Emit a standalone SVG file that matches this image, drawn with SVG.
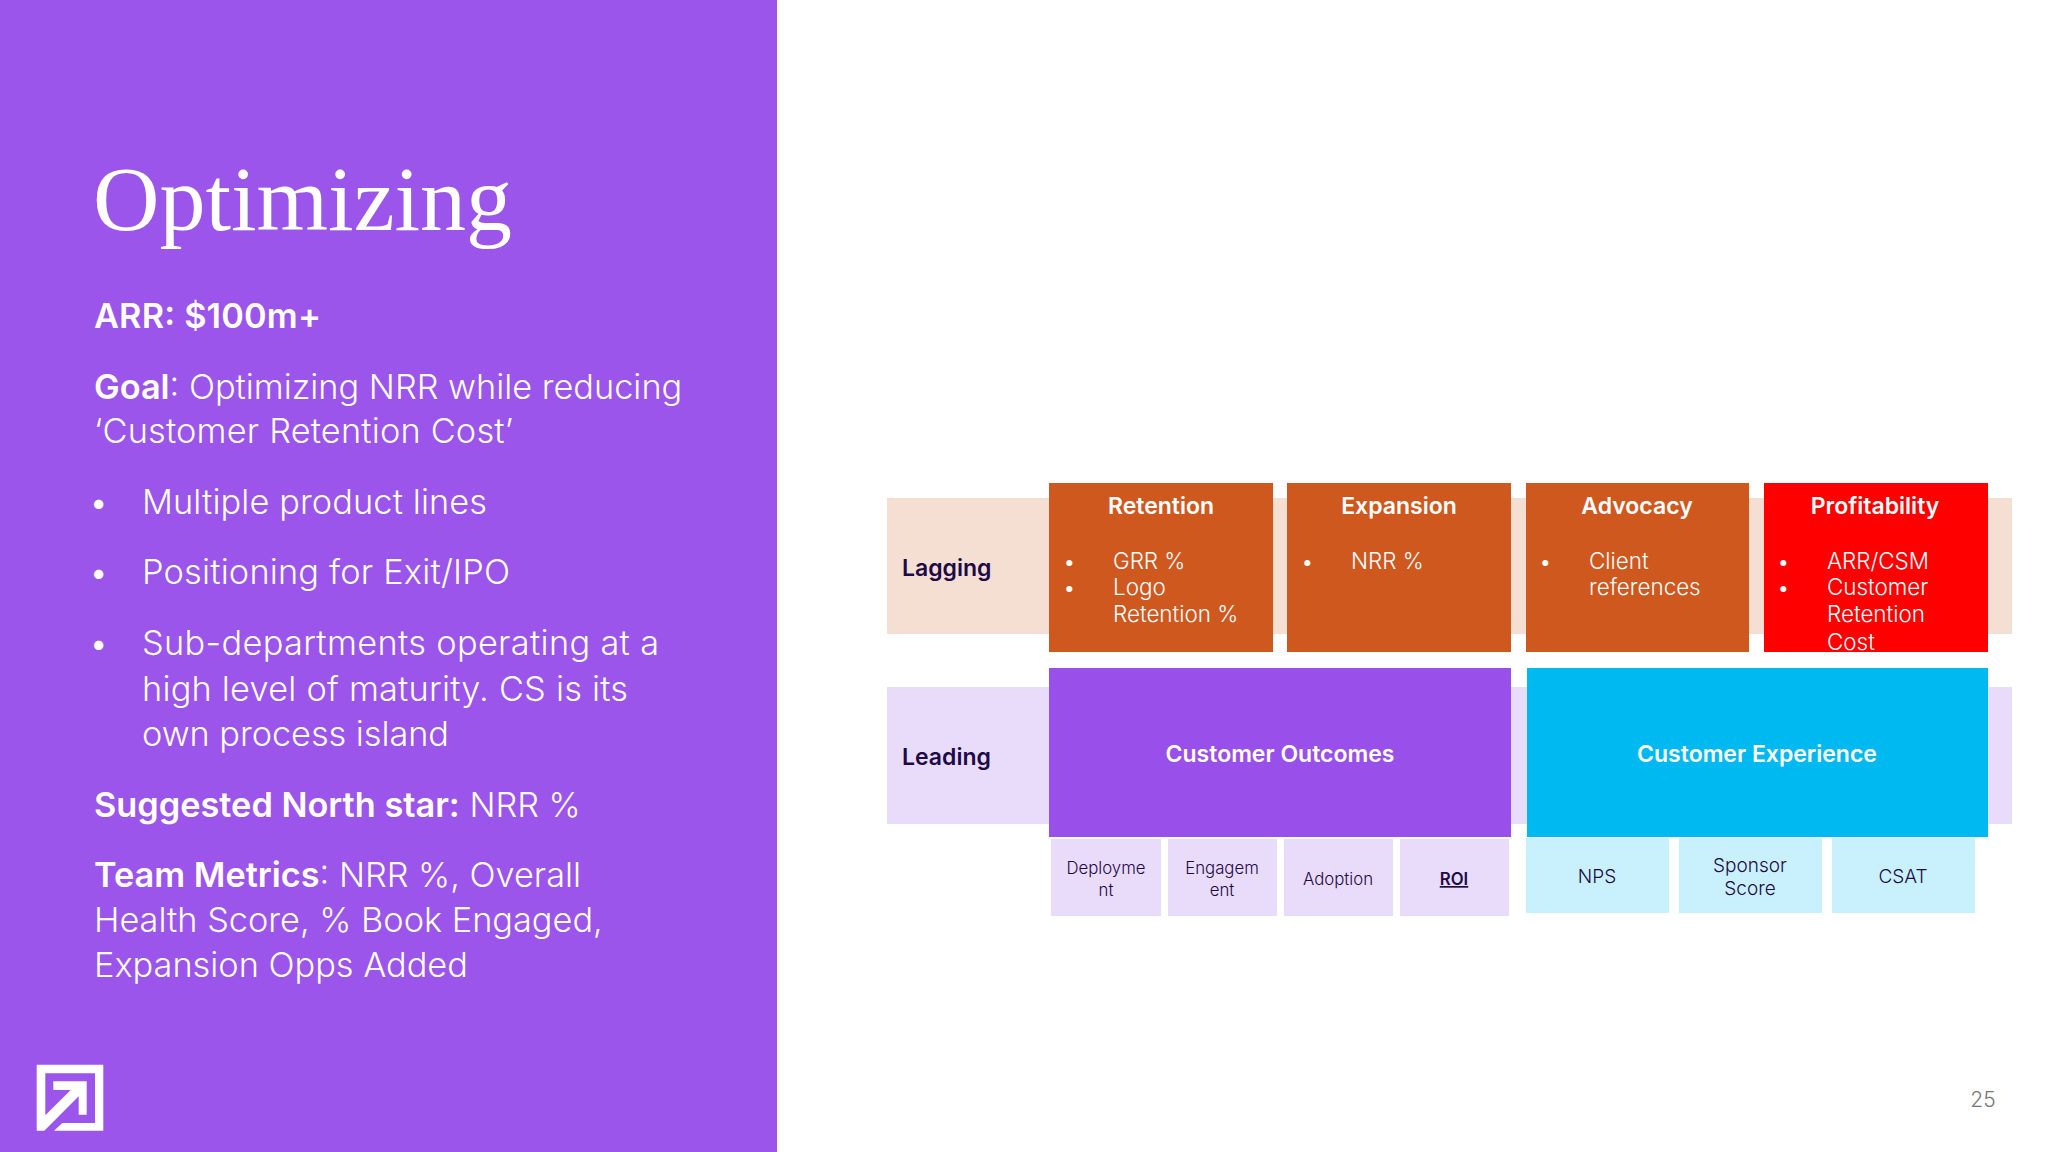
<svg xmlns="http://www.w3.org/2000/svg" width="2048" height="1152" viewBox="0 0 2048 1152">
<style>
text{font-family:Inter,"Liberation Sans",sans-serif}
.b{font-size:34.3px;font-weight:300;fill:#fff}
.s{font-weight:600}
.h{font-size:23px;font-weight:600;fill:#fff;text-anchor:middle}
.li{font-size:22.4px;font-weight:300;fill:#fff}
.r{font-size:23px;font-weight:600;fill:#1e0a46}
.m{font-size:16.8px;font-weight:300;fill:#1e0a46;text-anchor:middle}
.c{font-size:19px;font-weight:300;fill:#1e0a46;text-anchor:middle}
.o{fill:#cf581f}.lp{fill:#e9dbfa}.lb{fill:#c8f1fd}
</style>
<rect width="2048" height="1152" fill="#fff"/>
<g id="panel">
<rect width="777" height="1152" fill="#9b55eb"/>
<text x="93" y="230" style="font-family:'Liberation Serif',serif;font-size:92px" fill="#fff">Optimizing</text>
<text class="b s" x="94" y="328" textLength="227">ARR: $100m+</text>
<text class="b" x="94" y="399"><tspan class="s">Goal</tspan>: Optimizing NRR while reducing</text>
<text class="b" x="94" y="443" textLength="419">‘Customer Retention Cost’</text>
<text class="b" x="89" y="514">•</text><text class="b" x="142" y="514" textLength="345">Multiple product lines</text>
<text class="b" x="89" y="584">•</text><text class="b" x="142" y="584" textLength="368">Positioning for Exit/IPO</text>
<text class="b" x="89" y="655">•</text><text class="b" x="142" y="655" textLength="517">Sub-departments operating at a</text>
<text class="b" x="142" y="701" textLength="486">high level of maturity. CS is its</text>
<text class="b" x="142" y="746" textLength="307">own process island</text>
<text class="b" x="94" y="817"><tspan class="s">Suggested North star:</tspan> NRR %</text>
<text class="b" x="94" y="887"><tspan class="s">Team Metrics</tspan>: NRR %, Overall</text>
<text class="b" x="94" y="932">Health Score, % Book Engaged,</text>
<text class="b" x="94" y="977">Expansion Opps Added</text>
</g>
<g id="logo"><path fill="#fff" d="M36.7 1064.7H103.3V1130.7H54L62.3 1123H95V1073.3H45.3V1115.3L70.7 1090H53.3V1081.3H86.7V1114.7H78.7V1096.3L44.3 1130.7H36.7Z"/></g>
<g id="lagging"><rect x="887" y="498" width="1125" height="136" fill="#f5dfd3"/><text class="r" x="902" y="576">Lagging</text></g>
<g id="leading"><rect x="887" y="687" width="1125" height="137" class="lp"/><text class="r" x="902" y="765">Leading</text></g>
<g id="retention"><rect x="1049" y="483" width="224" height="169" class="o"/><text class="h" x="1161" y="514">Retention</text>
<text class="li" x="1063" y="569">•</text><text class="li" x="1113" y="569">GRR %</text><text class="li" x="1063" y="595">•</text><text class="li" x="1113" y="595">Logo</text><text class="li" x="1113" y="622">Retention %</text></g>
<g id="expansion"><rect x="1287" y="483" width="224" height="169" class="o"/><text class="h" x="1399" y="514">Expansion</text>
<text class="li" x="1301" y="569">•</text><text class="li" x="1351" y="569">NRR %</text></g>
<g id="advocacy"><rect x="1526" y="483" width="223" height="169" class="o"/><text class="h" x="1637" y="514">Advocacy</text>
<text class="li" x="1539" y="569">•</text><text class="li" x="1589" y="569">Client</text><text class="li" x="1589" y="595">references</text></g>
<g id="profitability"><rect x="1764" y="483" width="224" height="169" fill="#ff0000"/><text class="h" x="1875" y="514">Profitability</text>
<text class="li" x="1777" y="569">•</text><text class="li" x="1827" y="569">ARR/CSM</text><text class="li" x="1777" y="595">•</text><text class="li" x="1827" y="595">Customer</text><text class="li" x="1827" y="622">Retention</text><text class="li" x="1827" y="650">Cost</text></g>
<g id="outcomes"><rect x="1049" y="668" width="462" height="169" fill="#9950ea"/><text class="h" x="1280" y="762">Customer Outcomes</text></g>
<g id="experience"><rect x="1527" y="668" width="461" height="169" fill="#00b9f0"/><text class="h" x="1757" y="762">Customer Experience</text></g>
<g id="deployment"><rect x="1051" y="839" width="110" height="77" class="lp"/><text class="m" x="1106" y="874">Deployme</text><text class="m" x="1106" y="896">nt</text></g>
<g id="engagement"><rect x="1168" y="839" width="109" height="77" class="lp"/><text class="m" x="1222" y="874">Engagem</text><text class="m" x="1222" y="896">ent</text></g>
<g id="adoption"><rect x="1284" y="839" width="109" height="77" class="lp"/><text class="m" x="1338" y="885">Adoption</text></g>
<g id="roi"><rect x="1400" y="839" width="109" height="77" class="lp"/><text class="m" x="1454" y="885" text-decoration="underline" style="font-weight:600">ROI</text></g>
<g id="nps"><rect x="1526" y="838" width="143" height="75" class="lb"/><text class="c" x="1597" y="883">NPS</text></g>
<g id="sponsor"><rect x="1679" y="838" width="143" height="75" class="lb"/><text class="c" x="1750" y="872">Sponsor</text><text class="c" x="1750" y="895">Score</text></g>
<g id="csat"><rect x="1832" y="838" width="143" height="75" class="lb"/><text class="c" x="1903" y="883">CSAT</text></g>
<g id="connectors"/>
<g id="page"><text x="1983" y="1107" text-anchor="middle" style="font-size:21px;font-weight:300" fill="#777">25</text></g>
</svg>
